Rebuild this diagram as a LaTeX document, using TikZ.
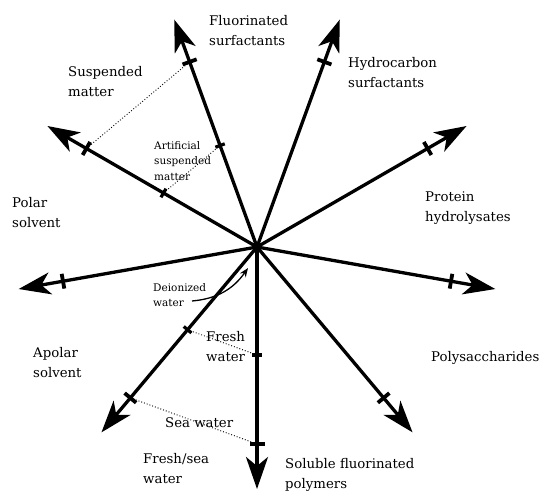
\documentclass[tikz,border=0pt]{standalone}
\usepackage{fontspec}
\setmainfont{DejaVu Serif}
\usepackage{tikz}
\usetikzlibrary{arrows.meta}
\usepackage{tikz-dependency}

\begin{document}
\begin{tikzpicture}[x=1pt, y=1pt]
            \depstyle{caxis}{line width=3.3pt, -{Stealth[length=32pt, width=22pt, inset=9pt]}}
            \depstyle{ctick}{fill=black, minimum width=15pt, minimum height=3.8pt, inner sep=0pt}
            \depstyle{ctick-small}{fill=black, minimum width=10pt, minimum height=3.2pt, inner sep=0pt}
            \depstyle{cdots}{dotted, line width=0.9pt}
            \depstyle{cbend}{line width=1.3pt, -{Stealth[length=9pt, width=7pt]}}
            \depstyle{clabel}{anchor=west, align=left, inner sep=0pt, font=\fontsize{13.3}{20}\selectfont}
            \depstyle{csmall}{anchor=west, align=left, inner sep=0pt, font=\fontsize{10.5}{15.5}\selectfont}

            \useasboundingbox (0, 0) rectangle (545, 491);

            \coordinate (centre) at (257, 244);

            % Axes:
            \foreach \a/\n in {270/1, 310/2, 350/3, 30/4, 70/5, 110/6, 150/7, 190/8, 230/9} {
                \begin{scope}[shift={(centre)}, rotate=\a]
                    \coordinate (tip-\n) at (242, 0);
                    \node[ctick, rotate=\a + 90] (out-\n) at (197, 0) {};
                \end{scope}
                \draw[caxis] (centre) -- (tip-\n);
            }

            % Inner marks:
            \foreach \a/\n in {270/1, 110/6, 150/7, 230/9} {
                \begin{scope}[shift={(centre)}, rotate=\a]
                    \node[ctick-small, rotate=\a + 90] (in-\n) at (108, 0) {};
                \end{scope}
            }

            % Dotted links:
            \draw[cdots] (out-6.center) -- (out-7.center);
            \draw[cdots] (in-6.center) -- (in-7.center);
            \draw[cdots] (in-9.center) -- (in-1.center);
            \draw[cdots] (out-9.center) -- (out-1.center);

            % Labels:
            \node[clabel] (fluor) at (209, 460) {Fluorinated\\surfactants};
            \node[clabel] (hydro) at (348, 418) {Hydrocarbon\\surfactants};
            \node[clabel] (susp) at (68, 409) {Suspended\\matter};
            \node[csmall] (artif) at (154, 330) {Artificial\\suspended\\matter};
            \node[clabel] (polar) at (12, 278) {Polar\\solvent};
            \node[clabel] (prot) at (425, 283) {Protein\\hydrolysates};
            \node[csmall] (deion) at (153, 196) {Deionized\\water};
            \node[clabel] (fresh) at (206, 144) {Fresh\\water};
            \node[clabel] (apolar) at (33, 128) {Apolar\\solvent};
            \node[clabel] (poly) at (431, 133) {Polysaccharides};
            \node[clabel] (sea) at (165, 68) {Sea water};
            \node[clabel] (freshsea) at (143, 22) {Fresh/sea\\water};
            \node[clabel] (soluble) at (285, 16) {Soluble fluorinated\\polymers};

            % Deionized water arrow:
            \coordinate (dw-from) at (192, 190);
            \coordinate (dw-to) at (248, 223);
            \draw[cbend] (dw-from) to[out=5, in=235] (dw-to);
        \end{tikzpicture}
\end{document}
